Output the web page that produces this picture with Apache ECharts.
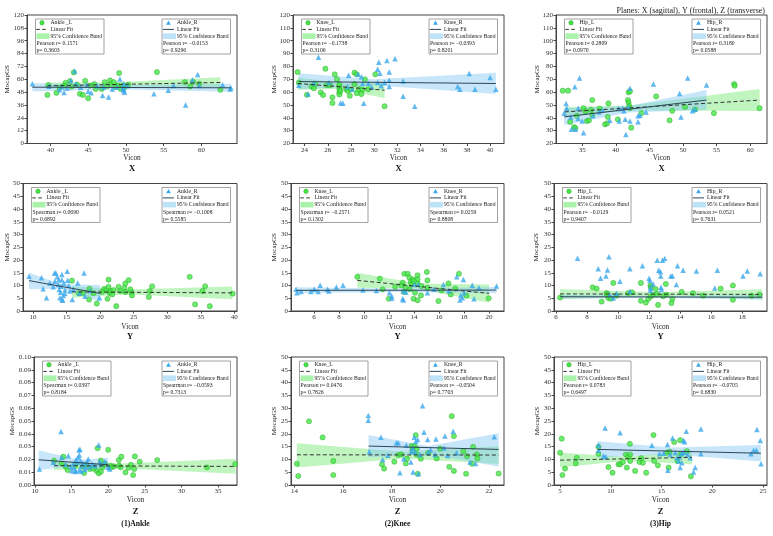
<!DOCTYPE html>
<html>
<head>
<meta charset="utf-8">
<title>MocapGS vs Vicon</title>
<script src="https://cdn.jsdelivr.net/npm/echarts@6/dist/echarts.min.js"></script>
<style>
  html, body { margin: 0; padding: 0; background: #fff; }
  #chart { width: 773px; height: 536px; }
</style>
</head>
<body>
<div id="chart"></div>
<script>
// ---- tick labels ----
var ticksAnkleX = [40, 45, 50, 55, 60];
var ticksKneeX = [24, 26, 28, 30, 32, 34, 36, 38, 40];
var ticksHipX = [35, 40, 45, 50, 55, 60];
var ticksAnkleY = [10, 15, 20, 25, 30, 35, 40];
var ticksKneeY = [6, 8, 10, 12, 14, 16, 18, 20];
var ticksHipY = [6, 8, 10, 12, 14, 16, 18];
var ticksAnkleZ = [10, 15, 20, 25, 30, 35];
var ticksKneeZ = [14, 16, 18, 20, 22];
var ticksHipZ = [5, 10, 15, 20, 25];
var yTicks120 = [0, 12, 24, 36, 48, 60, 72, 84, 96, 108, 120];
var yTicks20to120 = [20, 30, 40, 50, 60, 70, 80, 90, 100, 110, 120];
var yTicks50 = [0, 5, 10, 15, 20, 25, 30, 35, 40, 45, 50];
var yTicksSmall = [0, 0.01, 0.02, 0.03, 0.04, 0.05, 0.06, 0.07, 0.08, 0.09, 0.1];

// ---- Ankle X ----
var ankleX_L = [[39.6,45.4],[39.7,54.5],[40.8,47.3],[41.2,52.0],[42.0,56.7],[42.6,58.3],[43.1,66.4],[43.9,46.4],[44.3,45.4],[44.6,58.6],[45.0,42.3],[45.2,54.0],[46.0,51.0],[46.8,51.0],[47.2,57.3],[47.9,58.9],[48.0,55.8],[48.4,57.3],[48.9,54.2],[49.1,65.8],[49.3,51.0],[49.6,54.2],[50.3,55.1],[54.1,66.7],[57.8,57.3],[58.5,53.3],[58.9,57.6],[59.7,55.8],[62.5,50.1],[43.5,55.0],[41.8,54.0],[47.5,53.5],[48.6,53.0],[45.8,55.5],[42.8,53.0],[49.8,52.5]];
var ankleX_R = [[37.6,55.8],[39.8,53.5],[41.2,50.1],[41.8,47.6],[42.7,58.9],[43.2,67.7],[43.4,55.8],[45.0,48.9],[45.4,47.3],[46.9,44.8],[47.7,43.5],[48.2,51.0],[49.2,60.2],[49.6,52.0],[49.7,51.0],[49.7,49.5],[49.8,47.9],[49.7,55.8],[50.2,54.0],[53.7,46.4],[55.6,49.8],[56.3,54.2],[57.9,36.0],[58.8,59.5],[59.5,64.5],[59.7,54.2],[62.8,54.8],[63.8,51.0],[63.9,52.0],[41.5,53.0],[44.0,52.5],[46.2,54.0],[47.0,52.5],[44.8,55.0],[48.8,52.8],[42.2,51.8]];
var ankleX_fitL = [[39.6,53.9],[62.5,57.0]];
var ankleX_fitR = [[37.6,52.6],[63.9,52.0]];
var ankleX_bandL = [[39.6,50.8,57.0],[48.0,53.4,57.0],[62.5,52.2,61.8]];
var ankleX_bandR = [[37.6,48.8,56.4],[50.0,50.5,54.5],[63.9,48.4,55.7]];

// ---- Knee X ----
var kneeX_L = [[23.4,75.6],[23.5,67.4],[24.2,57.9],[24.6,64.4],[24.9,66.2],[25.4,59.7],[25.6,57.7],[25.8,78.2],[25.9,65.4],[26.2,65.4],[26.4,51.5],[26.4,55.9],[26.6,73.8],[26.8,70.0],[27.0,64.4],[27.0,62.3],[27.0,59.7],[27.0,58.2],[27.0,65.9],[27.6,62.3],[27.7,61.0],[27.9,57.2],[28.3,66.2],[28.3,75.1],[28.5,73.8],[28.5,59.2],[28.7,62.3],[28.9,58.5],[29.2,70.0],[29.5,62.3],[30.1,73.8],[30.9,49.0],[24.8,63.0],[27.1,61.0],[28.0,62.0],[29.0,62.0]];
var kneeX_R = [[23.5,65.4],[24.3,58.5],[25.2,87.2],[26.1,67.4],[27.1,51.5],[27.3,51.3],[27.8,73.1],[28.6,73.8],[28.9,72.0],[29.0,66.7],[29.1,51.3],[29.5,66.9],[30.3,67.4],[30.3,77.7],[30.4,83.3],[30.5,74.6],[30.9,67.4],[31.1,84.6],[31.3,75.6],[31.3,69.2],[31.3,64.4],[31.8,85.9],[32.5,68.7],[32.5,56.7],[33.5,49.0],[37.2,64.4],[37.4,62.3],[38.2,74.4],[38.7,62.3],[40.0,71.3],[40.5,62.3],[24.8,67.0],[27.7,64.4],[28.1,62.5],[30.6,65.0],[29.8,64.0]];
var kneeX_fitL = [[23.4,66.7],[30.9,61.5]];
var kneeX_fitR = [[23.5,68.2],[40.5,66.7]];
var kneeX_bandL = [[23.4,61.8,71.5],[27.0,62.5,66.8],[30.9,55.5,67.5]];
var kneeX_bandR = [[23.5,62.3,74.6],[30.0,65.4,70.0],[40.5,58.5,75.1]];

// ---- Hip X ----
var hipX_L = [[32.1,61.1],[32.9,61.1],[33.2,36.8],[33.8,32.8],[34.2,41.5],[35.2,47.5],[35.7,37.5],[36.0,38.0],[36.3,46.2],[36.5,53.8],[36.5,42.3],[37.6,47.2],[38.4,34.9],[38.7,35.7],[38.8,40.7],[38.9,51.2],[40.3,38.8],[41.8,53.8],[41.9,59.8],[41.9,51.9],[42.0,49.3],[42.1,47.5],[42.1,60.6],[42.3,32.3],[43.8,43.6],[46.0,56.6],[48.0,38.0],[48.4,45.4],[50.3,48.5],[51.8,46.4],[57.6,66.3],[57.7,65.0],[61.4,47.5],[34.0,32.0],[35.5,45.0],[54.6,43.6]];
var hipX_R = [[32.3,43.6],[32.6,51.2],[32.7,47.5],[33.3,40.7],[33.4,31.0],[33.9,64.2],[34.0,31.0],[34.4,47.5],[34.6,71.0],[34.4,39.4],[35.0,37.5],[35.2,28.4],[36.6,41.5],[39.1,38.0],[40.5,37.5],[40.4,47.2],[41.0,47.5],[41.2,45.4],[41.4,38.8],[41.5,27.1],[42.1,37.5],[42.1,62.9],[43.3,41.5],[43.3,37.0],[44.5,44.6],[45.6,66.3],[49.5,59.0],[49.7,40.7],[50.7,71.0],[51.4,45.4],[51.8,46.7],[53.5,65.5],[37.5,44.5],[41.9,48.5],[43.6,42.0],[38.0,46.0]];
var hipX_fitL = [[32.4,44.6],[61.4,53.8]];
var hipX_fitR = [[32.3,40.7],[53.5,53.8]];
var hipX_bandL = [[32.4,40.7,48.5],[42.0,45.6,49.6],[61.4,45.3,62.4]];
var hipX_bandR = [[32.3,34.4,47.5],[42.0,44.2,49.2],[53.5,46.2,61.6]];

// ---- Ankle Y ----
var ankleY_L = [[15.8,11.9],[16.85,6.9],[17.4,7.1],[18.4,8.7],[18.35,4.5],[19.5,2.9],[20.6,8.7],[20.9,8.2],[21.1,4.8],[21.25,12.3],[21.25,9.5],[21.4,7.1],[21.6,7.8],[22.0,8.2],[22.4,1.9],[22.75,9.5],[23.6,9.1],[23.75,10.8],[23.75,7.4],[24.25,12.1],[24.65,7.4],[24.75,6.1],[27.25,5.5],[27.4,7.8],[27.75,9.7],[33.35,13.4],[34.15,2.6],[35.25,7.8],[35.65,9.7],[36.35,1.9],[39.75,6.8],[20.3,7.5],[21.8,6.5],[23.0,7.8],[19.0,7.0],[24.5,8.5]];
var ankleY_R = [[9.4,13.6],[11.25,13.0],[11.5,8.7],[12.0,5.2],[13.2,14.9],[13.4,14.9],[13.25,11.7],[13.6,13.4],[13.75,10.4],[13.85,12.3],[13.9,8.4],[14.0,5.2],[14.1,7.4],[14.15,9.7],[14.3,14.3],[14.3,12.3],[14.35,4.5],[14.4,4.2],[14.5,6.1],[14.75,8.2],[14.75,6.9],[15.1,15.6],[15.15,12.1],[15.5,7.8],[15.85,4.5],[16.65,11.0],[17.6,14.9],[17.75,5.8],[19.9,5.2],[13.0,9.5],[14.6,11.0],[15.3,10.0],[16.0,8.5],[12.5,11.0],[16.9,7.0],[18.5,8.0]];
var ankleY_fitL = [[15.8,7.5],[39.7,7.1]];
var ankleY_fitR = [[9.4,11.9],[20.0,6.9]];
var ankleY_bandL = [[15.8,5.2,9.7],[24.0,6.6,8.4],[39.7,4.6,9.6]];
var ankleY_bandR = [[9.4,8.6,15.0],[14.2,8.7,10.5],[20.0,3.6,10.2]];

// ---- Knee Y ----
var kneeY_L = [[9.47,13.4],[11.27,12.7],[11.5,8.5],[11.99,4.8],[13.1,11.1],[13.23,14.6],[13.36,9.1],[13.5,14.6],[13.63,13.1],[13.76,11.4],[13.81,10.4],[13.9,12.4],[13.97,4.8],[14.08,7.2],[14.29,14.0],[14.29,12.4],[14.29,10.8],[14.29,4.2],[14.56,6.1],[15.03,15.3],[15.08,12.0],[15.96,3.9],[16.76,10.8],[16.94,6.5],[17.6,14.6],[19.98,5.0],[13.2,7.5],[13.66,8.5],[15.08,9.1],[14.6,9.8],[12.5,9.5],[16.2,8.0],[17.3,8.8],[18.2,6.0],[14.0,11.8],[13.0,10.0]];
var kneeY_R = [[4.57,8.5],[4.65,7.2],[4.97,7.6],[5.76,7.6],[6.03,8.5],[6.34,7.6],[6.5,10.1],[7.09,8.5],[7.19,7.8],[7.8,9.4],[8.33,10.1],[9.92,8.2],[12.04,7.2],[12.22,5.9],[12.22,5.0],[13.1,4.8],[13.15,4.3],[13.15,7.8],[13.36,7.4],[14.03,10.4],[14.34,10.4],[15.08,7.2],[16.36,10.4],[17.42,13.4],[17.68,4.3],[17.73,6.1],[17.87,5.2],[17.95,12.4],[18.0,7.2],[18.66,10.1],[18.8,4.8],[19.2,9.1],[20.6,9.8],[11.0,8.0],[15.6,8.5],[16.8,7.8]];
var kneeY_fitL = [[9.47,12.0],[20.0,6.9]];
var kneeY_fitR = [[4.6,8.1],[20.6,8.2]];
var kneeY_bandL = [[9.47,9.1,15.0],[14.3,8.8,10.8],[20.0,3.2,10.4]];
var kneeY_bandR = [[4.6,7.0,9.3],[12.5,7.5,8.8],[20.6,7.0,9.4]];

// ---- Hip Y ----
var hipY_L = [[6.26,5.3],[8.36,9.3],[8.62,8.8],[8.94,3.7],[9.26,7.0],[9.37,5.1],[9.54,4.8],[9.69,11.0],[9.9,6.0],[10.65,7.0],[11.47,4.0],[11.47,11.0],[11.79,3.3],[11.94,4.7],[12.09,10.0],[12.11,9.3],[12.11,5.7],[12.26,6.4],[12.43,8.6],[12.52,6.6],[12.58,2.4],[13.12,6.4],[13.08,10.6],[13.44,3.1],[13.5,4.7],[14.83,7.0],[15.48,6.0],[16.61,8.8],[17.4,10.0],[17.4,4.4],[19.12,6.4],[9.3,6.5],[10.9,7.3],[12.9,5.8],[14.1,7.5],[18.6,6.0]];
var hipY_R = [[7.39,20.7],[8.72,16.6],[8.87,12.8],[9.22,13.7],[9.32,16.1],[9.41,21.3],[9.47,6.4],[9.69,5.1],[9.9,7.0],[10.12,11.7],[10.76,16.6],[10.76,7.7],[11.57,17.7],[12.0,12.8],[12.05,12.0],[12.09,8.1],[12.09,9.0],[12.26,10.6],[12.52,19.9],[12.62,16.0],[12.73,15.4],[12.75,13.7],[12.77,9.3],[12.8,8.4],[12.86,19.9],[13.01,20.6],[13.4,13.7],[13.5,13.7],[13.83,17.7],[14.19,16.0],[13.76,10.4],[15.05,15.7],[16.23,9.0],[16.4,16.0],[18.05,13.7],[18.33,15.7],[19.16,14.6]];
var hipY_fitL = [[6.26,6.7],[19.3,6.5]];
var hipY_fitR = [[6.26,5.6],[19.3,5.4]];
var hipY_bandL = [[6.26,4.6,8.6],[12.5,5.8,7.4],[19.3,4.5,8.5]];
var hipY_bandR = [[6.26,4.9,6.4],[12.5,5.1,5.9],[19.3,4.5,6.3]];

// ---- Ankle Z ----
var ankleZ_L = [[12.6,0.019],[13.64,0.0169],[13.86,0.0221],[14.2,0.0143],[14.45,0.0117],[16.5,0.0143],[16.7,0.0094],[17.5,0.0125],[18.4,0.0112],[18.55,0.0288],[18.7,0.0091],[19.0,0.0104],[19.0,0.019],[19.2,0.0138],[20.0,0.0275],[20.36,0.0151],[20.45,0.0138],[21.45,0.0195],[21.5,0.0151],[21.7,0.0138],[21.8,0.0221],[22.36,0.0099],[23.1,0.0158],[23.4,0.0078],[23.55,0.0125],[23.64,0.0223],[24.3,0.0182],[26.7,0.0195],[33.5,0.0138],[37.36,0.0164],[17.0,0.016],[18.0,0.0128],[19.6,0.0165],[20.8,0.0145],[15.5,0.015],[22.8,0.0135]];
var ankleZ_R = [[10.6,0.0125],[12.5,0.0177],[13.55,0.0418],[13.64,0.0216],[14.55,0.0229],[14.86,0.0143],[15.23,0.0164],[15.45,0.0112],[15.6,0.0197],[15.77,0.0177],[15.9,0.0216],[16.0,0.0273],[16.05,0.0234],[16.05,0.0117],[16.14,0.028],[16.23,0.019],[16.36,0.0151],[16.6,0.0169],[16.95,0.0138],[17.1,0.0177],[17.27,0.0203],[18.2,0.0151],[18.7,0.0312],[18.86,0.0182],[19.0,0.0164],[19.55,0.0184],[20.0,0.0138],[20.2,0.0125],[15.0,0.0112],[17.5,0.0143],[15.6,0.0105],[16.3,0.0108],[14.2,0.016],[17.8,0.0165],[15.3,0.0135],[16.8,0.0122]];
var ankleZ_fitL = [[12.6,0.0151],[37.4,0.0145]];
var ankleZ_fitR = [[10.5,0.0197],[20.0,0.0158]];
var ankleZ_bandL = [[12.6,0.0118,0.0184],[21.0,0.0132,0.0166],[37.4,0.0088,0.0205]];
var ankleZ_bandR = [[10.5,0.0118,0.0272],[16.0,0.0153,0.0195],[20.0,0.0118,0.0212]];

// ---- Knee Z ----
var kneeZ_L = [[14.1,8.3],[14.16,3.5],[14.6,24.9],[15.16,18.6],[15.6,9.4],[15.6,3.9],[17.6,8.1],[17.69,6.4],[18.11,9.1],[18.27,11.7],[18.58,8.4],[18.63,10.3],[18.82,15.2],[18.85,13.6],[18.93,15.2],[18.99,19.5],[19.03,14.2],[19.03,11.9],[19.07,4.4],[19.2,10.3],[19.85,10.4],[19.99,14.2],[20.37,7.1],[20.47,26.9],[20.56,5.5],[20.56,19.1],[20.95,13.2],[21.06,4.4],[21.1,11.3],[21.3,8.3],[21.35,14.9],[21.5,11.9],[21.53,10.4],[22.4,4.5],[19.5,12.5],[18.4,12.0]];
var kneeZ_R = [[17.04,27.1],[17.04,25.3],[17.08,13.0],[17.56,18.7],[17.63,10.0],[17.84,11.6],[18.2,16.5],[18.27,16.5],[18.34,4.8],[18.5,10.3],[18.79,9.0],[18.82,13.2],[18.86,14.5],[18.88,5.1],[18.93,18.7],[18.96,12.9],[18.99,17.1],[19.07,17.8],[19.1,4.4],[19.16,11.9],[19.27,31.0],[19.33,20.6],[19.48,17.8],[19.5,12.6],[19.78,11.9],[19.82,18.0],[20.16,14.5],[20.19,19.1],[20.53,21.0],[20.67,12.6],[21.22,9.0],[21.45,8.4],[22.22,18.8],[19.6,13.8],[20.3,11.5],[18.6,15.5]];
var kneeZ_fitL = [[14.1,11.8],[22.4,11.7]];
var kneeZ_fitR = [[17.05,15.2],[22.4,13.9]];
var kneeZ_bandL = [[14.1,6.8,16.3],[18.5,10.4,13.0],[22.4,8.2,15.2]];
var kneeZ_bandR = [[17.05,10.8,19.5],[19.5,12.0,15.2],[22.4,7.2,20.2]];

// ---- Hip Z ----
var hipZ_L = [[5.0,12.6],[5.16,18.1],[5.23,3.9],[5.49,6.4],[6.55,8.4],[6.65,10.6],[8.78,12.2],[8.78,14.9],[9.77,7.0],[10.17,4.8],[10.76,8.1],[10.92,8.1],[11.19,9.0],[11.48,11.9],[11.58,6.8],[11.74,11.0],[11.88,16.1],[11.91,11.9],[11.91,9.4],[12.4,5.5],[12.83,9.0],[13.16,8.7],[13.49,4.8],[14.21,19.5],[14.28,9.4],[14.64,7.7],[15.53,12.6],[15.7,6.8],[15.8,13.0],[16.25,16.8],[16.58,9.4],[16.84,17.5],[17.9,3.4],[16.9,12.0],[17.5,13.2],[13.0,10.5]];
var hipZ_R = [[8.78,15.6],[8.78,13.6],[9.28,11.3],[9.44,22.3],[10.92,20.4],[14.05,15.5],[14.8,12.2],[15.59,15.8],[15.63,5.8],[15.86,11.9],[16.09,18.4],[16.35,12.6],[16.52,10.6],[16.68,9.4],[16.84,6.8],[17.0,8.7],[17.0,12.3],[17.17,17.4],[17.27,16.9],[17.44,21.0],[17.57,11.9],[17.83,10.6],[18.16,5.1],[18.32,6.8],[18.88,21.9],[18.88,12.2],[23.82,12.2],[24.08,13.6],[24.35,13.6],[24.41,21.7],[24.74,17.4],[24.81,8.3],[16.8,11.0],[17.2,12.8],[15.2,12.4],[9.5,11.0]];
var hipZ_fitL = [[5.0,9.7],[18.0,10.8]];
var hipZ_fitR = [[8.7,13.9],[24.8,12.4]];
var hipZ_bandL = [[5.0,6.8,12.6],[11.5,9.5,11.0],[18.0,8.1,13.3]];
var hipZ_bandR = [[8.7,10.7,17.1],[16.0,12.0,14.6],[24.8,9.2,15.6]];

// ---- legend / stats text ----
var statsAnkleX = [['Pearson r= 0.1571', 'p= 0.3603'], ['Pearson r= \u22120.0153', 'p= 0.9296']];
var statsKneeX = [['Pearson r= \u22120.1738', 'p= 0.3106'], ['Pearson r= \u22120.0393', 'p= 0.8201']];
var statsHipX = [['Pearson r= 0.2809', 'p= 0.0970'], ['Pearson r= 0.3180', 'p= 0.0588']];
var statsAnkleY = [['Spearman r= 0.0690', 'p= 0.6892'], ['Spearman r= \u22120.1008', 'p= 0.5585']];
var statsKneeY = [['Spearman r= \u22120.2571', 'p= 0.1302'], ['Spearman r= 0.0259', 'p= 0.8808']];
var statsHipY = [['Pearson r= \u22120.0129', 'p= 0.9407'], ['Pearson r= 0.0521', 'p= 0.7631']];
var statsAnkleZ = [['Spearman r= 0.0397', 'p= 0.8184'], ['Spearman r= \u22120.0593', 'p= 0.7313']];
var statsKneeZ = [['Pearson r= 0.0476', 'p= 0.7826'], ['Pearson r= \u22120.0504', 'p= 0.7703']];
var statsHipZ = [['Pearson r= 0.0783', 'p= 0.6497'], ['Pearson r= \u22120.0705', 'p= 0.6830']];

var FONT = 'Liberation Serif';
var GREEN = '#46e646', GREEN_EDGE = '#22a022';
var BLUE = '#3aa8ec';
var BAND_G = 'rgba(140,236,140,0.55)';
var BAND_B = 'rgba(130,200,245,0.45)';
var LINE_L = '#333333', LINE_R = '#2f4656';
var AXIS_C = '#444444';

var panels = [
    {L: ankleX_L, R: ankleX_R, fitL: ankleX_fitL, fitR: ankleX_fitR, bandL: ankleX_bandL, bandR: ankleX_bandR, x: [36.9, 64.7], xt: ticksAnkleX, y: [0, 120], yt: yTicks120, names: ['Ankle _L', 'Ankle_R'], stats: statsAnkleX},
    {L: kneeX_L, R: kneeX_R, fitL: kneeX_fitL, fitR: kneeX_fitR, bandL: kneeX_bandL, bandR: kneeX_bandR, x: [23.0, 41.2], xt: ticksKneeX, y: [20, 120], yt: yTicks20to120, names: ['Knee_L', 'Knee_R'], stats: statsKneeX},
    {L: hipX_L, R: hipX_R, fitL: hipX_fitL, fitR: hipX_fitR, bandL: hipX_bandL, bandR: hipX_bandR, x: [31.1, 62.5], xt: ticksHipX, y: [20, 120], yt: yTicks20to120, names: ['Hip_L', 'Hip_R'], stats: statsHipX},
    {L: ankleY_L, R: ankleY_R, fitL: ankleY_fitL, fitR: ankleY_fitR, bandL: ankleY_bandL, bandR: ankleY_bandR, x: [8.5, 40.4], xt: ticksAnkleY, y: [0, 50], yt: yTicks50, names: ['Ankle _L', 'Ankle_R'], stats: statsAnkleY},
    {L: kneeY_L, R: kneeY_R, fitL: kneeY_fitL, fitR: kneeY_fitR, bandL: kneeY_bandL, bandR: kneeY_bandR, x: [4.17, 21.2], xt: ticksKneeY, y: [0, 50], yt: yTicks50, names: ['Knee_L', 'Knee_R'], stats: statsKneeY},
    {L: hipY_L, R: hipY_R, fitL: hipY_fitL, fitR: hipY_fitR, bandL: hipY_bandL, bandR: hipY_bandR, x: [5.87, 19.6], xt: ticksHipY, y: [0, 50], yt: yTicks50, names: ['Hip_L', 'Hip_R'], stats: statsHipY},
    {L: ankleZ_L, R: ankleZ_R, fitL: ankleZ_fitL, fitR: ankleZ_fitR, bandL: ankleZ_bandL, bandR: ankleZ_bandR, x: [9.86, 37.6], xt: ticksAnkleZ, y: [0, 0.1], yt: yTicksSmall, digits: 2, names: ['Ankle _L', 'Ankle_R'], stats: statsAnkleZ},
    {L: kneeZ_L, R: kneeZ_R, fitL: kneeZ_fitL, fitR: kneeZ_fitR, bandL: kneeZ_bandL, bandR: kneeZ_bandR, x: [13.86, 22.62], xt: ticksKneeZ, y: [0, 50], yt: yTicks50, names: ['Knee_L', 'Knee_R'], stats: statsKneeZ},
    {L: hipZ_L, R: hipZ_R, fitL: hipZ_fitL, fitR: hipZ_fitR, bandL: hipZ_bandL, bandR: hipZ_bandR, x: [4.4, 25.4], xt: ticksHipZ, y: [0, 50], yt: yTicks50, names: ['Hip_L', 'Hip_R'], stats: statsHipZ}
];

// grid boxes: left, top, width, height (px)
var gridBoxes = [
    [27, 15, 210, 128.5], [293, 15, 211, 128.5], [556, 15, 211, 128.5],
    [23, 183.5, 214, 127.5], [291, 183.5, 213, 127.5], [554, 183.5, 213, 127.5],
    [34, 357, 203, 128], [291, 357, 213, 128], [554, 357, 213, 128]
];
var yTitleX = [7.3, 274, 537, 7.3, 274, 536, 11.7, 274, 537];
var rowText = [
    {vicon: 158.5, plane: 168.5, label: 'X'},
    {vicon: 326.7, plane: 336.5, label: 'Y'},
    {vicon: 500, plane: 511.5, label: 'Z'}
];
var jointLabels = ['(1)Ankle', '(2)Knee', '(3)Hip'];

function makeAxis(i, range, ticks, digits) {
    return {
        type: 'value', gridIndex: i, min: range[0], max: range[1],
        axisLine: {show: true, onZero: false, lineStyle: {color: AXIS_C, width: 1}},
        axisTick: {show: true, length: 2.5, customValues: ticks, lineStyle: {color: AXIS_C}},
        axisLabel: {
            customValues: ticks, fontSize: 7, fontFamily: FONT, color: '#333', margin: 3,
            formatter: function (v) { return digits ? v.toFixed(digits) : String(v); }
        },
        splitLine: {show: false}
    };
}

function bandSeries(i, band, color) {
    return {
        type: 'custom', xAxisIndex: i, yAxisIndex: i, silent: true, z: 1,
        data: band, encode: {x: 0, y: [1, 2]}, clip: true,
        renderItem: function (params, api) {
            if (params.dataIndex !== 0) return;
            var top = [], bot = [];
            band.forEach(function (b) {
                top.push(api.coord([b[0], b[2]]));
                bot.push(api.coord([b[0], b[1]]));
            });
            return {type: 'polygon', shape: {points: top.concat(bot.reverse())}, style: {fill: color}};
        }
    };
}

function txt(x, y, s, opt) {
    opt = opt || {};
    return {
        type: 'text', x: x, y: y, z: opt.z || 20, rotation: opt.rotation || 0,
        style: {
            text: s, fill: opt.fill || '#222',
            font: (opt.bold ? 'bold ' : '') + (opt.size || 5.7) + 'px "' + FONT + '"',
            textAlign: opt.align || 'left', textVerticalAlign: 'middle'
        }
    };
}

var grids = [], xAxes = [], yAxes = [], series = [], graphics = [];

function legendBox(x, y, name, isL, stats) {
    var z = 20;
    var kids = [
        {type: 'rect', z: z, shape: {x: 0, y: 0, width: 68.5, height: 35}, style: {fill: '#fff', stroke: '#8c8c8c', lineWidth: 0.8}},
        isL ? {type: 'circle', z: z, shape: {cx: 6.5, cy: 3.8, r: 2.2}, style: {fill: GREEN, stroke: GREEN_EDGE, lineWidth: 0.5}}
            : {type: 'polygon', z: z, shape: {points: [[6.5, 1.4], [8.9, 5.7], [4.1, 5.7]]}, style: {fill: BLUE}},
        txt(15, 3.8, name),
        {type: 'line', z: z, shape: {x1: 0.8, y1: 10.4, x2: 12, y2: 10.4}, style: {stroke: isL ? LINE_L : LINE_R, lineWidth: 1, lineDash: isL ? [3.5, 2.5] : null}},
        txt(15, 10.4, 'Linear Fit'),
        {type: 'rect', z: z, shape: {x: 1, y: 14.4, width: 13, height: 5.6}, style: {fill: isL ? 'rgb(170,242,170)' : 'rgb(190,226,248)'}},
        txt(15, 17.3, '95% Confidence Band'),
        txt(1, 24.6, stats[0]),
        txt(1, 31.6, stats[1])
    ];
    graphics.push({type: 'group', x: x, y: y, children: kids});
}

panels.forEach(function (p, i) {
    var b = gridBoxes[i];
    grids.push({left: b[0], top: b[1], width: b[2], height: b[3], show: true, borderColor: AXIS_C, borderWidth: 1, backgroundColor: 'transparent'});
    xAxes.push(makeAxis(i, p.x, p.xt));
    yAxes.push(makeAxis(i, p.y, p.yt, p.digits));

    series.push(bandSeries(i, p.bandL, BAND_G));
    series.push(bandSeries(i, p.bandR, BAND_B));
    series.push({
        type: 'scatter', name: p.names[0], xAxisIndex: i, yAxisIndex: i, data: p.L, z: 2,
        symbol: 'circle', symbolSize: 5.2,
        itemStyle: {color: GREEN, borderColor: GREEN_EDGE, borderWidth: 0.5}
    });
    series.push({
        type: 'scatter', name: p.names[1], xAxisIndex: i, yAxisIndex: i, data: p.R, z: 2,
        symbol: 'triangle', symbolSize: 5.5,
        itemStyle: {color: BLUE}
    });
    series.push({
        type: 'line', xAxisIndex: i, yAxisIndex: i, data: p.fitL, z: 3, symbol: 'none', silent: true,
        lineStyle: {color: LINE_L, width: 1, type: [4, 2.5]}
    });
    series.push({
        type: 'line', xAxisIndex: i, yAxisIndex: i, data: p.fitR, z: 3, symbol: 'none', silent: true,
        lineStyle: {color: LINE_R, width: 1}
    });

    legendBox(b[0] + 8.5, b[1] + 4, p.names[0], true, p.stats[0]);
    legendBox(b[0] + b[2] - 6.5 - 68.5, b[1] + 4, p.names[1], false, p.stats[1]);

    var row = Math.floor(i / 3), cx = b[0] + b[2] / 2;
    graphics.push(txt(cx, rowText[row].vicon, 'Vicon', {size: 7.3, align: 'center'}));
    graphics.push(txt(cx, rowText[row].plane, rowText[row].label, {size: 8.5, bold: true, align: 'center', fill: '#111'}));
    graphics.push(txt(yTitleX[i], b[1] + b[3] / 2, 'MocapGS', {size: 7, align: 'center', rotation: Math.PI / 2}));
    if (row === 2) {
        graphics.push(txt(cx, 524.5, jointLabels[i - 6], {size: 7.6, bold: true, align: 'center', fill: '#111'}));
    }
});

graphics.push(txt(765, 11, 'Planes: X (sagittal), Y (frontal), Z (transverse)', {size: 8, align: 'right', fill: '#222'}));

var myChart = echarts.init(document.getElementById('chart'), null, {renderer: 'canvas'});
myChart.setOption({
    animation: false,
    backgroundColor: '#fff',
    grid: grids,
    xAxis: xAxes,
    yAxis: yAxes,
    series: series,
    graphic: {elements: graphics}
});
</script>
</body>
</html>
